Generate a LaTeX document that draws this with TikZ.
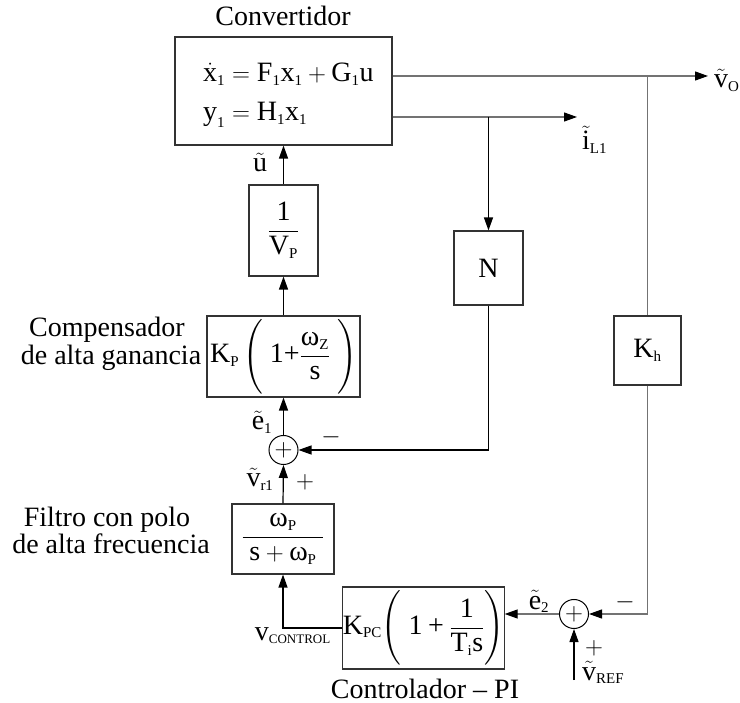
\documentclass[tikz,border=0pt]{standalone}
\usepackage{amsmath}
\usepackage{fontspec}
\setmainfont{Liberation Serif}
\usetikzlibrary{arrows.meta}
\DeclareMathSizes{28}{28}{15}{11}
\newcommand\tx[1]{\text{#1}}
\newcommand\sub[1]{_{\text{#1}}}
\newcommand\tallstrut{\rule[-29pt]{0pt}{72pt}}
\begin{document}
\begin{tikzpicture}[x=1pt,y=-1pt,
  every node/.style={font=\fontsize{28}{34}\selectfont, inner sep=0pt},
  blk/.style={draw=black!80, line width=1.1pt, inner sep=0pt},
  sumj/.style={draw, circle, line width=1pt, minimum size=29pt, inner sep=0pt},
  ln/.style={line width=1.2pt},
  gl/.style={line width=1.2pt, draw=black!55},
  tip/.style={-{Triangle[length=13pt,width=9pt,color=black]}},
]
\useasboundingbox (0,0) rectangle (740,703);

% blocks
\node[blk, minimum width=217pt, minimum height=108pt] (conv) at (283.5,91) {};
\node[anchor=base west] (eq1) at (203,82) {$\dot{\tx{x}}\sub{1} = \tx{F}\sub{1}\tx{x}\sub{1} + \tx{G}\sub{1}\tx{u}$};
\node[anchor=base west] (eq2) at (203,121) {$\tx{y}\sub{1} = \tx{H}\sub{1}\tx{x}\sub{1}$};
\node[anchor=base] (convl) at (283,26) {Convertidor};

\node[blk, minimum width=69pt, minimum height=91pt] (vp) at (283.5,230.5) {$\dfrac{\tx{1}}{\tx{V}\sub{P}}$};
\node[blk, minimum width=153pt, minimum height=81pt] (comp) at (283.5,356.5) {$\tx{K}\sub{P}\,{\left(\tallstrut\;\tx{1+}\dfrac{\tx{ω}\sub{Z}}{\tx{s}}\;\right)}$};
\node[sumj] (s1) at (283.5,450) {$+$};
\node[blk, minimum width=102pt, minimum height=70pt] (filt) at (283,539) {$\dfrac{\;\tx{ω}\sub{P}\;}{\;\tx{s} + \tx{ω}\sub{P}\;}$};
\node[blk, minimum width=153pt, minimum height=82pt] (ctrl) at (423.5,628) {$\tx{K}\sub{PC}{\left(\tallstrut\;\tx{1}\mathbin{\tx{+}}\dfrac{\tx{1}}{\tx{T}\sub{i}\tx{s}}\right)}$};
\node[sumj] (s2) at (574,614) {$+$};
\node[blk, minimum width=69pt, minimum height=74pt] (n) at (488.5,268) {N};
\node[blk, minimum width=67pt, minimum height=69pt] (kh) at (647.5,350.5) {$\tx{K}\sub{h}$};

% free ends
\coordinate (vo) at (708,76);
\coordinate (il) at (577,117);
\coordinate (vref) at (574,680);

% connectors
\draw[gl,tip] (conv.east |- vo) -- (vo);
\draw[gl] (kh.north |- vo) -- (kh.north);
\draw[gl,tip] (conv.east |- il) -- (il);
\draw[ln,tip] (n.north |- il) -- (n.north);
\draw[ln,tip] (vp.north) -- (conv.south);
\draw[ln,tip] (comp.north) -- (vp.south);
\draw[ln,tip] (s1.north) -- (comp.south);
\draw[ln,tip] (n.south) |- (s1.east);
\draw[ln,tip] (filt.north) -- (s1.south);
\draw[ln,tip] (ctrl.west) -| (filt.south);
\draw[gl,tip] (s2.west) -- (ctrl.east |- s2);
\draw[gl,tip] (kh.south) |- (s2.east);
\draw[ln,tip] (vref) -- (s2.south);

% labels
\node[anchor=base] (ul) at (260,172) {$\tilde{\tx{u}}$};
\node[anchor=base] (e1l) at (262,430) {$\tilde{\tx{e}}\sub{1}$};
\node[anchor=base] (vr1) at (260,487) {$\tilde{\tx{v}}\sub{r1}$};
\node (p1) at (305,482) {$+$};
\node (m1) at (331,437) {$-$};
\node[anchor=base west] (vol) at (714,88) {$\tilde{\tx{v}}\sub{O}$};
\node[anchor=base west] (ill) at (582,150) {$\tilde{\tx{i}}\sub{L1}$};
\node[anchor=base] (e2l) at (539,609) {$\tilde{\tx{e}}\sub{2}$};
\node (m2) at (625,602) {$-$};
\node (p2) at (594,648) {$+$};
\node[anchor=base west] (vrefl) at (582,680) {$\tilde{\tx{v}}\sub{REF}$};
\node[anchor=base east] (vcl) at (331,640) {$\tx{v}\sub{\fontsize{13}{14}\selectfont CONTROL}$};
\node[anchor=base] (ctl) at (425,698) {Controlador -- PI};
\node[anchor=base] (cl1) at (107,337) {Compensador};
\node[anchor=base] (cl2) at (111,365) {de alta ganancia};
\node[anchor=base] (fl1) at (107,527) {Filtro con polo};
\node[anchor=base] (fl2) at (111,554) {de alta frecuencia};
\end{tikzpicture}
\end{document}
